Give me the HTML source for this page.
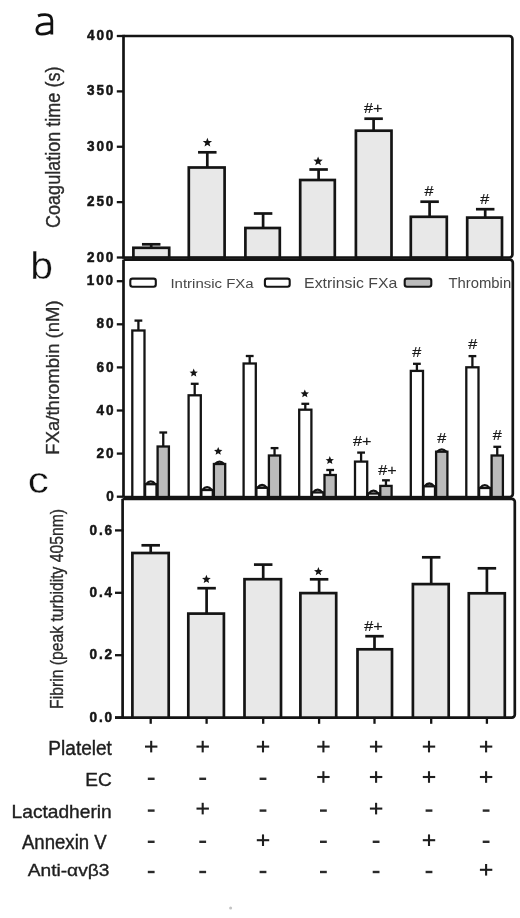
<!DOCTYPE html>
<html><head><meta charset="utf-8"><style>
html,body{margin:0;padding:0;background:#fff;}
body{width:520px;height:918px;overflow:hidden;}
svg{display:block;will-change:transform;font-family:"Liberation Sans",sans-serif;}
</style></head><body>
<svg width="520" height="918" viewBox="0 0 520 918">
<line x1="123.50" y1="34.80" x2="123.50" y2="258.70" stroke="#141414" stroke-width="2.7" stroke-linecap="butt"/>
<path d="M123.50,36.00 H509.40 A3.0,3.0 0 0 1 512.40,39.00 V254.50 A3.0,3.0 0 0 1 509.40,257.50 H123.50" fill="none" stroke="#141414" stroke-width="2.7"/>
<rect x="133.40" y="247.80" width="35.80" height="9.70" fill="#e8e8e8" stroke="#141414" stroke-width="2.7"/>
<line x1="151.20" y1="247.80" x2="151.20" y2="244.30" stroke="#141414" stroke-width="2.7" stroke-linecap="butt"/>
<line x1="141.95" y1="244.30" x2="160.45" y2="244.30" stroke="#141414" stroke-width="2.7" stroke-linecap="butt"/>
<rect x="188.80" y="167.50" width="35.80" height="90.00" fill="#e8e8e8" stroke="#141414" stroke-width="2.7"/>
<line x1="207.30" y1="167.50" x2="207.30" y2="152.30" stroke="#141414" stroke-width="2.7" stroke-linecap="butt"/>
<line x1="198.05" y1="152.30" x2="216.55" y2="152.30" stroke="#141414" stroke-width="2.7" stroke-linecap="butt"/>
<rect x="245.40" y="228.00" width="34.40" height="29.50" fill="#e8e8e8" stroke="#141414" stroke-width="2.7"/>
<line x1="263.10" y1="228.00" x2="263.10" y2="213.50" stroke="#141414" stroke-width="2.7" stroke-linecap="butt"/>
<line x1="253.85" y1="213.50" x2="272.35" y2="213.50" stroke="#141414" stroke-width="2.7" stroke-linecap="butt"/>
<rect x="300.20" y="180.00" width="34.60" height="77.50" fill="#e8e8e8" stroke="#141414" stroke-width="2.7"/>
<line x1="318.60" y1="180.00" x2="318.60" y2="169.50" stroke="#141414" stroke-width="2.7" stroke-linecap="butt"/>
<line x1="309.35" y1="169.50" x2="327.85" y2="169.50" stroke="#141414" stroke-width="2.7" stroke-linecap="butt"/>
<rect x="355.90" y="130.70" width="35.60" height="126.80" fill="#e8e8e8" stroke="#141414" stroke-width="2.7"/>
<line x1="373.60" y1="130.70" x2="373.60" y2="118.70" stroke="#141414" stroke-width="2.7" stroke-linecap="butt"/>
<line x1="364.35" y1="118.70" x2="382.85" y2="118.70" stroke="#141414" stroke-width="2.7" stroke-linecap="butt"/>
<rect x="410.80" y="216.80" width="36.00" height="40.70" fill="#e8e8e8" stroke="#141414" stroke-width="2.7"/>
<line x1="429.60" y1="216.80" x2="429.60" y2="201.70" stroke="#141414" stroke-width="2.7" stroke-linecap="butt"/>
<line x1="420.35" y1="201.70" x2="438.85" y2="201.70" stroke="#141414" stroke-width="2.7" stroke-linecap="butt"/>
<rect x="467.20" y="217.60" width="34.80" height="39.90" fill="#e8e8e8" stroke="#141414" stroke-width="2.7"/>
<line x1="485.20" y1="217.60" x2="485.20" y2="209.20" stroke="#141414" stroke-width="2.7" stroke-linecap="butt"/>
<line x1="475.95" y1="209.20" x2="494.45" y2="209.20" stroke="#141414" stroke-width="2.7" stroke-linecap="butt"/>
<polygon points="207.40,137.70 208.63,140.90 212.06,141.09 209.40,143.25 210.28,146.56 207.40,144.70 204.52,146.56 205.40,143.25 202.74,141.09 206.17,140.90" fill="#141414"/>
<polygon points="318.10,156.40 319.33,159.60 322.76,159.79 320.10,161.95 320.98,165.26 318.10,163.40 315.22,165.26 316.10,161.95 313.44,159.79 316.87,159.60" fill="#141414"/>
<line x1="123.50" y1="259.70" x2="123.50" y2="497.00" stroke="#141414" stroke-width="2.7" stroke-linecap="butt"/>
<path d="M123.50,259.70 H509.80 A3.0,3.0 0 0 1 512.80,262.70 V494.00 A3.0,3.0 0 0 1 509.80,497.00 H123.50" fill="none" stroke="#141414" stroke-width="2.7"/>
<rect x="132.30" y="330.50" width="12.20" height="166.50" fill="#ffffff" stroke="#141414" stroke-width="2.3"/>
<line x1="138.40" y1="330.50" x2="138.40" y2="320.60" stroke="#141414" stroke-width="2.3" stroke-linecap="butt"/>
<line x1="134.50" y1="320.60" x2="142.30" y2="320.60" stroke="#141414" stroke-width="2.3" stroke-linecap="butt"/>
<rect x="145.10" y="484.20" width="11.40" height="12.80" fill="#ffffff" stroke="#141414" stroke-width="2.3"/>
<path d="M146.10,484.20 Q150.80,478.60 155.50,484.20" fill="none" stroke="#141414" stroke-width="2.3"/>
<rect x="157.60" y="446.50" width="11.30" height="50.50" fill="#bbbbbb" stroke="#141414" stroke-width="2.3"/>
<line x1="163.25" y1="446.50" x2="163.25" y2="432.50" stroke="#141414" stroke-width="2.3" stroke-linecap="butt"/>
<line x1="159.35" y1="432.50" x2="167.15" y2="432.50" stroke="#141414" stroke-width="2.3" stroke-linecap="butt"/>
<rect x="188.60" y="395.30" width="12.20" height="101.70" fill="#ffffff" stroke="#141414" stroke-width="2.3"/>
<line x1="194.70" y1="395.30" x2="194.70" y2="383.80" stroke="#141414" stroke-width="2.3" stroke-linecap="butt"/>
<line x1="190.80" y1="383.80" x2="198.60" y2="383.80" stroke="#141414" stroke-width="2.3" stroke-linecap="butt"/>
<rect x="201.40" y="490.00" width="11.40" height="7.00" fill="#ffffff" stroke="#141414" stroke-width="2.3"/>
<path d="M202.40,490.00 Q207.10,484.40 211.80,490.00" fill="none" stroke="#141414" stroke-width="2.3"/>
<rect x="213.90" y="464.00" width="11.30" height="33.00" fill="#bbbbbb" stroke="#141414" stroke-width="2.3"/>
<path d="M214.90,464.00 Q219.55,459.20 224.20,464.00" fill="none" stroke="#141414" stroke-width="2.3"/>
<rect x="243.60" y="363.50" width="12.20" height="133.50" fill="#ffffff" stroke="#141414" stroke-width="2.3"/>
<line x1="249.70" y1="363.50" x2="249.70" y2="356.00" stroke="#141414" stroke-width="2.3" stroke-linecap="butt"/>
<line x1="245.80" y1="356.00" x2="253.60" y2="356.00" stroke="#141414" stroke-width="2.3" stroke-linecap="butt"/>
<rect x="256.40" y="487.80" width="11.40" height="9.20" fill="#ffffff" stroke="#141414" stroke-width="2.3"/>
<path d="M257.40,487.80 Q262.10,482.20 266.80,487.80" fill="none" stroke="#141414" stroke-width="2.3"/>
<rect x="268.90" y="455.50" width="11.30" height="41.50" fill="#bbbbbb" stroke="#141414" stroke-width="2.3"/>
<line x1="274.55" y1="455.50" x2="274.55" y2="448.10" stroke="#141414" stroke-width="2.3" stroke-linecap="butt"/>
<line x1="270.65" y1="448.10" x2="278.45" y2="448.10" stroke="#141414" stroke-width="2.3" stroke-linecap="butt"/>
<rect x="299.20" y="409.70" width="12.20" height="87.30" fill="#ffffff" stroke="#141414" stroke-width="2.3"/>
<line x1="305.30" y1="409.70" x2="305.30" y2="403.80" stroke="#141414" stroke-width="2.3" stroke-linecap="butt"/>
<line x1="301.40" y1="403.80" x2="309.20" y2="403.80" stroke="#141414" stroke-width="2.3" stroke-linecap="butt"/>
<rect x="312.00" y="492.40" width="11.40" height="4.60" fill="#ffffff" stroke="#141414" stroke-width="2.3"/>
<path d="M313.00,492.40 Q317.70,486.80 322.40,492.40" fill="none" stroke="#141414" stroke-width="2.3"/>
<rect x="324.50" y="475.00" width="11.30" height="22.00" fill="#bbbbbb" stroke="#141414" stroke-width="2.3"/>
<line x1="330.15" y1="475.00" x2="330.15" y2="470.00" stroke="#141414" stroke-width="2.3" stroke-linecap="butt"/>
<line x1="326.25" y1="470.00" x2="334.05" y2="470.00" stroke="#141414" stroke-width="2.3" stroke-linecap="butt"/>
<rect x="355.00" y="461.60" width="12.20" height="35.40" fill="#ffffff" stroke="#141414" stroke-width="2.3"/>
<line x1="361.10" y1="461.60" x2="361.10" y2="452.60" stroke="#141414" stroke-width="2.3" stroke-linecap="butt"/>
<line x1="357.20" y1="452.60" x2="365.00" y2="452.60" stroke="#141414" stroke-width="2.3" stroke-linecap="butt"/>
<rect x="367.80" y="493.50" width="11.40" height="3.50" fill="#ffffff" stroke="#141414" stroke-width="2.3"/>
<path d="M368.80,493.50 Q373.50,487.90 378.20,493.50" fill="none" stroke="#141414" stroke-width="2.3"/>
<rect x="380.30" y="485.90" width="11.30" height="11.10" fill="#bbbbbb" stroke="#141414" stroke-width="2.3"/>
<line x1="385.95" y1="485.90" x2="385.95" y2="480.30" stroke="#141414" stroke-width="2.3" stroke-linecap="butt"/>
<line x1="382.05" y1="480.30" x2="389.85" y2="480.30" stroke="#141414" stroke-width="2.3" stroke-linecap="butt"/>
<rect x="410.80" y="370.90" width="12.20" height="126.10" fill="#ffffff" stroke="#141414" stroke-width="2.3"/>
<line x1="416.90" y1="370.90" x2="416.90" y2="363.80" stroke="#141414" stroke-width="2.3" stroke-linecap="butt"/>
<line x1="413.00" y1="363.80" x2="420.80" y2="363.80" stroke="#141414" stroke-width="2.3" stroke-linecap="butt"/>
<rect x="423.60" y="486.30" width="11.40" height="10.70" fill="#ffffff" stroke="#141414" stroke-width="2.3"/>
<path d="M424.60,486.30 Q429.30,480.70 434.00,486.30" fill="none" stroke="#141414" stroke-width="2.3"/>
<rect x="436.10" y="451.70" width="11.30" height="45.30" fill="#bbbbbb" stroke="#141414" stroke-width="2.3"/>
<path d="M437.10,451.70 Q441.75,446.90 446.40,451.70" fill="none" stroke="#141414" stroke-width="2.3"/>
<rect x="466.30" y="367.30" width="12.20" height="129.70" fill="#ffffff" stroke="#141414" stroke-width="2.3"/>
<line x1="472.40" y1="367.30" x2="472.40" y2="356.10" stroke="#141414" stroke-width="2.3" stroke-linecap="butt"/>
<line x1="468.50" y1="356.10" x2="476.30" y2="356.10" stroke="#141414" stroke-width="2.3" stroke-linecap="butt"/>
<rect x="479.10" y="488.00" width="11.40" height="9.00" fill="#ffffff" stroke="#141414" stroke-width="2.3"/>
<path d="M480.10,488.00 Q484.80,482.40 489.50,488.00" fill="none" stroke="#141414" stroke-width="2.3"/>
<rect x="491.60" y="455.50" width="11.30" height="41.50" fill="#bbbbbb" stroke="#141414" stroke-width="2.3"/>
<line x1="497.25" y1="455.50" x2="497.25" y2="446.80" stroke="#141414" stroke-width="2.3" stroke-linecap="butt"/>
<line x1="493.35" y1="446.80" x2="501.15" y2="446.80" stroke="#141414" stroke-width="2.3" stroke-linecap="butt"/>
<polygon points="193.70,368.60 194.88,371.38 197.88,371.64 195.60,373.62 196.29,376.56 193.70,375.00 191.11,376.56 191.80,373.62 189.52,371.64 192.52,371.38" fill="#141414"/>
<polygon points="218.20,446.90 219.38,449.68 222.38,449.94 220.10,451.92 220.79,454.86 218.20,453.30 215.61,454.86 216.30,451.92 214.02,449.94 217.02,449.68" fill="#141414"/>
<polygon points="304.80,389.40 305.98,392.18 308.98,392.44 306.70,394.42 307.39,397.36 304.80,395.80 302.21,397.36 302.90,394.42 300.62,392.44 303.62,392.18" fill="#141414"/>
<polygon points="329.80,456.10 330.98,458.88 333.98,459.14 331.70,461.12 332.39,464.06 329.80,462.50 327.21,464.06 327.90,461.12 325.62,459.14 328.62,458.88" fill="#141414"/>
<rect x="130.3" y="278.6" width="25.5" height="8.2" rx="2.2" fill="#ffffff" stroke="#141414" stroke-width="2.1"/>
<rect x="264.9" y="278.6" width="24.80000000000001" height="8.2" rx="2.2" fill="#ffffff" stroke="#141414" stroke-width="2.1"/>
<rect x="404.7" y="278.6" width="26.600000000000023" height="8.2" rx="2.2" fill="#bbbbbb" stroke="#141414" stroke-width="2.1"/>
<g transform="matrix(1.0714,0,0,0.9455,-151.00,4.36)"><text transform="translate(300,300) rotate(0)" font-size="14" font-weight="normal" letter-spacing="0" fill="#474747">Intrinsic FXa</text></g>
<g transform="matrix(1.1317,0,0,0.9909,-35.44,-8.97)"><text transform="translate(300,300) rotate(0)" font-size="14" font-weight="normal" letter-spacing="0" fill="#474747">Extrinsic FXa</text></g>
<g transform="matrix(1.0603,0,0,1.0091,130.40,-14.43)"><text transform="translate(300,300) rotate(0)" font-size="14" font-weight="normal" letter-spacing="0" fill="#474747">Thrombin</text></g>
<line x1="122.60" y1="498.80" x2="122.60" y2="717.60" stroke="#141414" stroke-width="2.7" stroke-linecap="butt"/>
<path d="M122.60,498.80 H511.80 A3.0,3.0 0 0 1 514.80,501.80 V714.60 A3.0,3.0 0 0 1 511.80,717.60 H122.60" fill="none" stroke="#141414" stroke-width="2.7"/>
<line x1="115.00" y1="717.60" x2="124.00" y2="717.60" stroke="#141414" stroke-width="2.7" stroke-linecap="butt"/>
<rect x="132.40" y="553.00" width="36.30" height="164.60" fill="#e8e8e8" stroke="#141414" stroke-width="2.7"/>
<line x1="150.70" y1="553.00" x2="150.70" y2="545.30" stroke="#141414" stroke-width="2.7" stroke-linecap="butt"/>
<line x1="141.45" y1="545.30" x2="159.95" y2="545.30" stroke="#141414" stroke-width="2.7" stroke-linecap="butt"/>
<line x1="150.70" y1="717.60" x2="150.70" y2="723.80" stroke="#141414" stroke-width="2.3" stroke-linecap="butt"/>
<rect x="188.30" y="613.60" width="35.60" height="104.00" fill="#e8e8e8" stroke="#141414" stroke-width="2.7"/>
<line x1="206.60" y1="613.60" x2="206.60" y2="588.20" stroke="#141414" stroke-width="2.7" stroke-linecap="butt"/>
<line x1="197.35" y1="588.20" x2="215.85" y2="588.20" stroke="#141414" stroke-width="2.7" stroke-linecap="butt"/>
<line x1="206.60" y1="717.60" x2="206.60" y2="723.80" stroke="#141414" stroke-width="2.3" stroke-linecap="butt"/>
<rect x="244.50" y="579.20" width="36.50" height="138.40" fill="#e8e8e8" stroke="#141414" stroke-width="2.7"/>
<line x1="263.20" y1="579.20" x2="263.20" y2="564.60" stroke="#141414" stroke-width="2.7" stroke-linecap="butt"/>
<line x1="253.95" y1="564.60" x2="272.45" y2="564.60" stroke="#141414" stroke-width="2.7" stroke-linecap="butt"/>
<line x1="263.20" y1="717.60" x2="263.20" y2="723.80" stroke="#141414" stroke-width="2.3" stroke-linecap="butt"/>
<rect x="300.40" y="593.10" width="35.80" height="124.50" fill="#e8e8e8" stroke="#141414" stroke-width="2.7"/>
<line x1="319.10" y1="593.10" x2="319.10" y2="579.30" stroke="#141414" stroke-width="2.7" stroke-linecap="butt"/>
<line x1="309.85" y1="579.30" x2="328.35" y2="579.30" stroke="#141414" stroke-width="2.7" stroke-linecap="butt"/>
<line x1="319.10" y1="717.60" x2="319.10" y2="723.80" stroke="#141414" stroke-width="2.3" stroke-linecap="butt"/>
<rect x="357.50" y="649.30" width="34.50" height="68.30" fill="#e8e8e8" stroke="#141414" stroke-width="2.7"/>
<line x1="374.50" y1="649.30" x2="374.50" y2="636.20" stroke="#141414" stroke-width="2.7" stroke-linecap="butt"/>
<line x1="365.25" y1="636.20" x2="383.75" y2="636.20" stroke="#141414" stroke-width="2.7" stroke-linecap="butt"/>
<line x1="374.50" y1="717.60" x2="374.50" y2="723.80" stroke="#141414" stroke-width="2.3" stroke-linecap="butt"/>
<rect x="412.90" y="584.10" width="35.80" height="133.50" fill="#e8e8e8" stroke="#141414" stroke-width="2.7"/>
<line x1="431.20" y1="584.10" x2="431.20" y2="557.30" stroke="#141414" stroke-width="2.7" stroke-linecap="butt"/>
<line x1="421.95" y1="557.30" x2="440.45" y2="557.30" stroke="#141414" stroke-width="2.7" stroke-linecap="butt"/>
<line x1="431.20" y1="717.60" x2="431.20" y2="723.80" stroke="#141414" stroke-width="2.3" stroke-linecap="butt"/>
<rect x="468.80" y="593.30" width="36.00" height="124.30" fill="#e8e8e8" stroke="#141414" stroke-width="2.7"/>
<line x1="486.90" y1="593.30" x2="486.90" y2="568.30" stroke="#141414" stroke-width="2.7" stroke-linecap="butt"/>
<line x1="477.65" y1="568.30" x2="496.15" y2="568.30" stroke="#141414" stroke-width="2.7" stroke-linecap="butt"/>
<line x1="486.90" y1="717.60" x2="486.90" y2="723.80" stroke="#141414" stroke-width="2.3" stroke-linecap="butt"/>
<polygon points="206.40,574.80 207.58,577.78 210.77,577.98 208.30,580.02 209.10,583.12 206.40,581.40 203.70,583.12 204.50,580.02 202.03,577.98 205.22,577.78" fill="#141414"/>
<polygon points="318.40,567.00 319.58,569.98 322.77,570.18 320.30,572.22 321.10,575.32 318.40,573.60 315.70,575.32 316.50,572.22 314.03,570.18 317.22,569.98" fill="#141414"/>
<line x1="116.80" y1="36.00" x2="123.50" y2="36.00" stroke="#141414" stroke-width="2.3" stroke-linecap="butt"/>
<g transform="matrix(0.9700,0,0,1.0000,-203.99,-259.90)"><text transform="translate(300,300) rotate(0)" font-size="14" font-weight="bold" letter-spacing="1.9" fill="#161616" stroke="#161616" stroke-width="0.5">400</text></g>
<line x1="116.80" y1="91.38" x2="123.50" y2="91.38" stroke="#141414" stroke-width="2.3" stroke-linecap="butt"/>
<g transform="matrix(0.9700,0,0,1.0000,-203.99,-204.53)"><text transform="translate(300,300) rotate(0)" font-size="14" font-weight="bold" letter-spacing="1.9" fill="#161616" stroke="#161616" stroke-width="0.5">350</text></g>
<line x1="116.80" y1="146.75" x2="123.50" y2="146.75" stroke="#141414" stroke-width="2.3" stroke-linecap="butt"/>
<g transform="matrix(0.9700,0,0,1.0000,-203.99,-149.15)"><text transform="translate(300,300) rotate(0)" font-size="14" font-weight="bold" letter-spacing="1.9" fill="#161616" stroke="#161616" stroke-width="0.5">300</text></g>
<line x1="116.80" y1="202.12" x2="123.50" y2="202.12" stroke="#141414" stroke-width="2.3" stroke-linecap="butt"/>
<g transform="matrix(0.9700,0,0,1.0000,-203.99,-93.78)"><text transform="translate(300,300) rotate(0)" font-size="14" font-weight="bold" letter-spacing="1.9" fill="#161616" stroke="#161616" stroke-width="0.5">250</text></g>
<line x1="116.80" y1="257.50" x2="123.50" y2="257.50" stroke="#141414" stroke-width="2.3" stroke-linecap="butt"/>
<g transform="matrix(0.9700,0,0,1.0000,-203.99,-38.40)"><text transform="translate(300,300) rotate(0)" font-size="14" font-weight="bold" letter-spacing="1.9" fill="#161616" stroke="#161616" stroke-width="0.5">200</text></g>
<line x1="116.80" y1="281.20" x2="123.50" y2="281.20" stroke="#141414" stroke-width="2.3" stroke-linecap="butt"/>
<g transform="matrix(0.9700,0,0,1.0000,-204.19,-14.70)"><text transform="translate(300,300) rotate(0)" font-size="14" font-weight="bold" letter-spacing="1.9" fill="#161616" stroke="#161616" stroke-width="0.5">100</text></g>
<line x1="116.80" y1="324.30" x2="123.50" y2="324.30" stroke="#141414" stroke-width="2.3" stroke-linecap="butt"/>
<g transform="matrix(0.9700,0,0,1.0000,-194.49,28.40)"><text transform="translate(300,300) rotate(0)" font-size="14" font-weight="bold" letter-spacing="1.9" fill="#161616" stroke="#161616" stroke-width="0.5">80</text></g>
<line x1="116.80" y1="367.40" x2="123.50" y2="367.40" stroke="#141414" stroke-width="2.3" stroke-linecap="butt"/>
<g transform="matrix(0.9700,0,0,1.0000,-194.49,71.50)"><text transform="translate(300,300) rotate(0)" font-size="14" font-weight="bold" letter-spacing="1.9" fill="#161616" stroke="#161616" stroke-width="0.5">60</text></g>
<line x1="116.80" y1="410.50" x2="123.50" y2="410.50" stroke="#141414" stroke-width="2.3" stroke-linecap="butt"/>
<g transform="matrix(0.9700,0,0,1.0000,-194.49,114.60)"><text transform="translate(300,300) rotate(0)" font-size="14" font-weight="bold" letter-spacing="1.9" fill="#161616" stroke="#161616" stroke-width="0.5">40</text></g>
<line x1="116.80" y1="453.60" x2="123.50" y2="453.60" stroke="#141414" stroke-width="2.3" stroke-linecap="butt"/>
<g transform="matrix(0.9700,0,0,1.0000,-194.49,157.70)"><text transform="translate(300,300) rotate(0)" font-size="14" font-weight="bold" letter-spacing="1.9" fill="#161616" stroke="#161616" stroke-width="0.5">20</text></g>
<line x1="116.80" y1="496.70" x2="123.50" y2="496.70" stroke="#141414" stroke-width="2.3" stroke-linecap="butt"/>
<g transform="matrix(0.9700,0,0,1.0000,-184.79,200.80)"><text transform="translate(300,300) rotate(0)" font-size="14" font-weight="bold" letter-spacing="1.9" fill="#161616" stroke="#161616" stroke-width="0.5">0</text></g>
<line x1="115.00" y1="530.40" x2="123.50" y2="530.40" stroke="#141414" stroke-width="2.3" stroke-linecap="butt"/>
<g transform="matrix(0.9700,0,0,1.0000,-201.51,234.50)"><text transform="translate(300,300) rotate(0)" font-size="14" font-weight="bold" letter-spacing="1.9" fill="#161616" stroke="#161616" stroke-width="0.5">0.6</text></g>
<line x1="115.00" y1="592.80" x2="123.50" y2="592.80" stroke="#141414" stroke-width="2.3" stroke-linecap="butt"/>
<g transform="matrix(0.9700,0,0,1.0000,-201.51,296.90)"><text transform="translate(300,300) rotate(0)" font-size="14" font-weight="bold" letter-spacing="1.9" fill="#161616" stroke="#161616" stroke-width="0.5">0.4</text></g>
<line x1="115.00" y1="655.20" x2="123.50" y2="655.20" stroke="#141414" stroke-width="2.3" stroke-linecap="butt"/>
<g transform="matrix(0.9700,0,0,1.0000,-201.51,359.30)"><text transform="translate(300,300) rotate(0)" font-size="14" font-weight="bold" letter-spacing="1.9" fill="#161616" stroke="#161616" stroke-width="0.5">0.2</text></g>
<line x1="115.00" y1="717.60" x2="123.50" y2="717.60" stroke="#141414" stroke-width="2.3" stroke-linecap="butt"/>
<g transform="matrix(0.9700,0,0,1.0000,-201.51,421.70)"><text transform="translate(300,300) rotate(0)" font-size="14" font-weight="bold" letter-spacing="1.9" fill="#161616" stroke="#161616" stroke-width="0.5">0.0</text></g>
<g transform="matrix(1.2429,0,0,1.1875,-8.86,-243.20)"><text transform="translate(300,300) rotate(0)" font-size="13" font-weight="normal" letter-spacing="0" fill="#1a1a1a" stroke="#1a1a1a" stroke-width="0.15">#+</text></g>
<g transform="matrix(1.2429,0,0,1.1875,51.59,-160.30)"><text transform="translate(300,300) rotate(0)" font-size="13" font-weight="normal" letter-spacing="0" fill="#1a1a1a" stroke="#1a1a1a" stroke-width="0.15">#</text></g>
<g transform="matrix(1.2429,0,0,1.1875,107.49,-152.70)"><text transform="translate(300,300) rotate(0)" font-size="13" font-weight="normal" letter-spacing="0" fill="#1a1a1a" stroke="#1a1a1a" stroke-width="0.15">#</text></g>
<g transform="matrix(1.2429,0,0,1.1875,-19.96,89.70)"><text transform="translate(300,300) rotate(0)" font-size="13" font-weight="normal" letter-spacing="0" fill="#1a1a1a" stroke="#1a1a1a" stroke-width="0.15">#+</text></g>
<g transform="matrix(1.2429,0,0,1.1875,5.44,118.40)"><text transform="translate(300,300) rotate(0)" font-size="13" font-weight="normal" letter-spacing="0" fill="#1a1a1a" stroke="#1a1a1a" stroke-width="0.15">#+</text></g>
<g transform="matrix(1.2429,0,0,1.1875,39.39,0.80)"><text transform="translate(300,300) rotate(0)" font-size="13" font-weight="normal" letter-spacing="0" fill="#1a1a1a" stroke="#1a1a1a" stroke-width="0.15">#</text></g>
<g transform="matrix(1.2429,0,0,1.1875,64.29,87.00)"><text transform="translate(300,300) rotate(0)" font-size="13" font-weight="normal" letter-spacing="0" fill="#1a1a1a" stroke="#1a1a1a" stroke-width="0.15">#</text></g>
<g transform="matrix(1.2429,0,0,1.1875,95.49,-7.30)"><text transform="translate(300,300) rotate(0)" font-size="13" font-weight="normal" letter-spacing="0" fill="#1a1a1a" stroke="#1a1a1a" stroke-width="0.15">#</text></g>
<g transform="matrix(1.2429,0,0,1.1875,119.79,83.50)"><text transform="translate(300,300) rotate(0)" font-size="13" font-weight="normal" letter-spacing="0" fill="#1a1a1a" stroke="#1a1a1a" stroke-width="0.15">#</text></g>
<g transform="matrix(1.2429,0,0,1.1875,-8.56,274.50)"><text transform="translate(300,300) rotate(0)" font-size="13" font-weight="normal" letter-spacing="0" fill="#1a1a1a" stroke="#1a1a1a" stroke-width="0.15">#+</text></g>
<path d="M38,15.9 C40,15.0 42.5,14.7 45,14.7 C49.6,14.7 51.8,16.5 51.8,20.6 L51.8,34.6 M51.8,23.7 C46,23.7 41.6,24.2 39.3,25.6 C37.6,26.7 36.9,28.2 36.9,29.9 C36.9,32.4 38.8,34.1 41.8,34.1 C46,34.1 49.8,32.7 51.8,30.6" fill="none" stroke="#111" stroke-width="2.8"/>
<g transform="matrix(1.0222,0,0,0.9600,-276.43,-8.80)"><text transform="translate(300,300) rotate(0)" font-size="40" font-weight="normal" letter-spacing="0" fill="#111" stroke="#fff" stroke-width="0.4">b</text></g>
<g transform="matrix(1.0529,0,0,0.9455,-288.19,209.46)"><text transform="translate(300,300) rotate(0)" font-size="40" font-weight="normal" letter-spacing="0" fill="#111" stroke="#fff" stroke-width="0.4">c</text></g>
<g transform="matrix(1.1588,0,0,1.0025,-288.08,-72.75)"><text transform="translate(300,300) rotate(-90)" font-size="18" font-weight="normal" letter-spacing="0" fill="#2a2a2a" stroke="#2a2a2a" stroke-width="0.3">Coagulation time (s)</text></g>
<g transform="matrix(1.0000,0,0,1.0284,-240.90,146.11)"><text transform="translate(300,300) rotate(-90)" font-size="18" font-weight="normal" letter-spacing="0" fill="#2a2a2a" stroke="#2a2a2a" stroke-width="0.3">FXa/thrombin (nM)</text></g>
<g transform="matrix(1.1429,0,0,1.0138,-280.19,404.76)"><text transform="translate(300,300) rotate(-90)" font-size="15.5" font-weight="normal" letter-spacing="0" fill="#2a2a2a" stroke="#2a2a2a" stroke-width="0.3">Fibrin (peak turbidity 405nm)</text></g>
<g transform="matrix(1.1214,0,0,1.1500,-288.05,410.30)"><text transform="translate(300,300) rotate(0)" font-size="17" font-weight="normal" letter-spacing="0" fill="#1e1e1e" stroke="#1e1e1e" stroke-width="0.35">Platelet</text></g>
<g transform="matrix(1.1227,0,0,1.0667,-251.44,465.80)"><text transform="translate(300,300) rotate(0)" font-size="17" font-weight="normal" letter-spacing="0" fill="#1e1e1e" stroke="#1e1e1e" stroke-width="0.35">EC</text></g>
<g transform="matrix(1.1276,0,0,1.1083,-326.70,485.50)"><text transform="translate(300,300) rotate(0)" font-size="17" font-weight="normal" letter-spacing="0" fill="#1e1e1e" stroke="#1e1e1e" stroke-width="0.35">Lactadherin</text></g>
<g transform="matrix(1.0949,0,0,1.1500,-306.56,504.20)"><text transform="translate(300,300) rotate(0)" font-size="17" font-weight="normal" letter-spacing="0" fill="#1e1e1e" stroke="#1e1e1e" stroke-width="0.35">Annexin V</text></g>
<g transform="matrix(1.1278,0,0,0.9200,-310.63,600.44)"><text transform="translate(300,300) rotate(0)" font-size="17" font-weight="normal" letter-spacing="0" fill="#1e1e1e" stroke="#1e1e1e" stroke-width="0.35">Anti-&#945;v&#946;3</text></g>
<line x1="145.00" y1="746.60" x2="157.40" y2="746.60" stroke="#1e1e1e" stroke-width="2.1" stroke-linecap="butt"/>
<line x1="151.20" y1="740.80" x2="151.20" y2="752.40" stroke="#1e1e1e" stroke-width="2.1" stroke-linecap="butt"/>
<line x1="196.50" y1="746.60" x2="208.90" y2="746.60" stroke="#1e1e1e" stroke-width="2.1" stroke-linecap="butt"/>
<line x1="202.70" y1="740.80" x2="202.70" y2="752.40" stroke="#1e1e1e" stroke-width="2.1" stroke-linecap="butt"/>
<line x1="256.80" y1="746.60" x2="269.20" y2="746.60" stroke="#1e1e1e" stroke-width="2.1" stroke-linecap="butt"/>
<line x1="263.00" y1="740.80" x2="263.00" y2="752.40" stroke="#1e1e1e" stroke-width="2.1" stroke-linecap="butt"/>
<line x1="317.20" y1="746.60" x2="329.60" y2="746.60" stroke="#1e1e1e" stroke-width="2.1" stroke-linecap="butt"/>
<line x1="323.40" y1="740.80" x2="323.40" y2="752.40" stroke="#1e1e1e" stroke-width="2.1" stroke-linecap="butt"/>
<line x1="369.90" y1="746.60" x2="382.30" y2="746.60" stroke="#1e1e1e" stroke-width="2.1" stroke-linecap="butt"/>
<line x1="376.10" y1="740.80" x2="376.10" y2="752.40" stroke="#1e1e1e" stroke-width="2.1" stroke-linecap="butt"/>
<line x1="422.80" y1="746.60" x2="435.20" y2="746.60" stroke="#1e1e1e" stroke-width="2.1" stroke-linecap="butt"/>
<line x1="429.00" y1="740.80" x2="429.00" y2="752.40" stroke="#1e1e1e" stroke-width="2.1" stroke-linecap="butt"/>
<line x1="479.90" y1="746.60" x2="492.30" y2="746.60" stroke="#1e1e1e" stroke-width="2.1" stroke-linecap="butt"/>
<line x1="486.10" y1="740.80" x2="486.10" y2="752.40" stroke="#1e1e1e" stroke-width="2.1" stroke-linecap="butt"/>
<line x1="147.80" y1="778.80" x2="154.60" y2="778.80" stroke="#2a2a2a" stroke-width="2.4" stroke-linecap="butt"/>
<line x1="199.30" y1="778.80" x2="206.10" y2="778.80" stroke="#2a2a2a" stroke-width="2.4" stroke-linecap="butt"/>
<line x1="259.60" y1="778.80" x2="266.40" y2="778.80" stroke="#2a2a2a" stroke-width="2.4" stroke-linecap="butt"/>
<line x1="317.20" y1="777.00" x2="329.60" y2="777.00" stroke="#1e1e1e" stroke-width="2.1" stroke-linecap="butt"/>
<line x1="323.40" y1="771.20" x2="323.40" y2="782.80" stroke="#1e1e1e" stroke-width="2.1" stroke-linecap="butt"/>
<line x1="369.90" y1="777.00" x2="382.30" y2="777.00" stroke="#1e1e1e" stroke-width="2.1" stroke-linecap="butt"/>
<line x1="376.10" y1="771.20" x2="376.10" y2="782.80" stroke="#1e1e1e" stroke-width="2.1" stroke-linecap="butt"/>
<line x1="422.80" y1="777.00" x2="435.20" y2="777.00" stroke="#1e1e1e" stroke-width="2.1" stroke-linecap="butt"/>
<line x1="429.00" y1="771.20" x2="429.00" y2="782.80" stroke="#1e1e1e" stroke-width="2.1" stroke-linecap="butt"/>
<line x1="479.90" y1="777.00" x2="492.30" y2="777.00" stroke="#1e1e1e" stroke-width="2.1" stroke-linecap="butt"/>
<line x1="486.10" y1="771.20" x2="486.10" y2="782.80" stroke="#1e1e1e" stroke-width="2.1" stroke-linecap="butt"/>
<line x1="147.80" y1="810.60" x2="154.60" y2="810.60" stroke="#2a2a2a" stroke-width="2.4" stroke-linecap="butt"/>
<line x1="196.50" y1="808.60" x2="208.90" y2="808.60" stroke="#1e1e1e" stroke-width="2.1" stroke-linecap="butt"/>
<line x1="202.70" y1="802.80" x2="202.70" y2="814.40" stroke="#1e1e1e" stroke-width="2.1" stroke-linecap="butt"/>
<line x1="259.60" y1="810.60" x2="266.40" y2="810.60" stroke="#2a2a2a" stroke-width="2.4" stroke-linecap="butt"/>
<line x1="320.00" y1="810.60" x2="326.80" y2="810.60" stroke="#2a2a2a" stroke-width="2.4" stroke-linecap="butt"/>
<line x1="369.90" y1="808.60" x2="382.30" y2="808.60" stroke="#1e1e1e" stroke-width="2.1" stroke-linecap="butt"/>
<line x1="376.10" y1="802.80" x2="376.10" y2="814.40" stroke="#1e1e1e" stroke-width="2.1" stroke-linecap="butt"/>
<line x1="425.60" y1="810.60" x2="432.40" y2="810.60" stroke="#2a2a2a" stroke-width="2.4" stroke-linecap="butt"/>
<line x1="482.70" y1="810.60" x2="489.50" y2="810.60" stroke="#2a2a2a" stroke-width="2.4" stroke-linecap="butt"/>
<line x1="147.80" y1="841.80" x2="154.60" y2="841.80" stroke="#2a2a2a" stroke-width="2.4" stroke-linecap="butt"/>
<line x1="199.30" y1="841.80" x2="206.10" y2="841.80" stroke="#2a2a2a" stroke-width="2.4" stroke-linecap="butt"/>
<line x1="256.80" y1="840.20" x2="269.20" y2="840.20" stroke="#1e1e1e" stroke-width="2.1" stroke-linecap="butt"/>
<line x1="263.00" y1="834.40" x2="263.00" y2="846.00" stroke="#1e1e1e" stroke-width="2.1" stroke-linecap="butt"/>
<line x1="320.00" y1="841.80" x2="326.80" y2="841.80" stroke="#2a2a2a" stroke-width="2.4" stroke-linecap="butt"/>
<line x1="372.70" y1="841.80" x2="379.50" y2="841.80" stroke="#2a2a2a" stroke-width="2.4" stroke-linecap="butt"/>
<line x1="422.80" y1="840.20" x2="435.20" y2="840.20" stroke="#1e1e1e" stroke-width="2.1" stroke-linecap="butt"/>
<line x1="429.00" y1="834.40" x2="429.00" y2="846.00" stroke="#1e1e1e" stroke-width="2.1" stroke-linecap="butt"/>
<line x1="482.70" y1="841.80" x2="489.50" y2="841.80" stroke="#2a2a2a" stroke-width="2.4" stroke-linecap="butt"/>
<line x1="147.80" y1="872.00" x2="154.60" y2="872.00" stroke="#2a2a2a" stroke-width="2.4" stroke-linecap="butt"/>
<line x1="199.30" y1="872.00" x2="206.10" y2="872.00" stroke="#2a2a2a" stroke-width="2.4" stroke-linecap="butt"/>
<line x1="259.60" y1="872.00" x2="266.40" y2="872.00" stroke="#2a2a2a" stroke-width="2.4" stroke-linecap="butt"/>
<line x1="320.00" y1="872.00" x2="326.80" y2="872.00" stroke="#2a2a2a" stroke-width="2.4" stroke-linecap="butt"/>
<line x1="372.70" y1="872.00" x2="379.50" y2="872.00" stroke="#2a2a2a" stroke-width="2.4" stroke-linecap="butt"/>
<line x1="425.60" y1="872.00" x2="432.40" y2="872.00" stroke="#2a2a2a" stroke-width="2.4" stroke-linecap="butt"/>
<line x1="479.90" y1="869.80" x2="492.30" y2="869.80" stroke="#1e1e1e" stroke-width="2.1" stroke-linecap="butt"/>
<line x1="486.10" y1="864.00" x2="486.10" y2="875.60" stroke="#1e1e1e" stroke-width="2.1" stroke-linecap="butt"/>
<circle cx="230.6" cy="907.9" r="1.5" fill="#c4c4c4"/>
</svg>
</body></html>
